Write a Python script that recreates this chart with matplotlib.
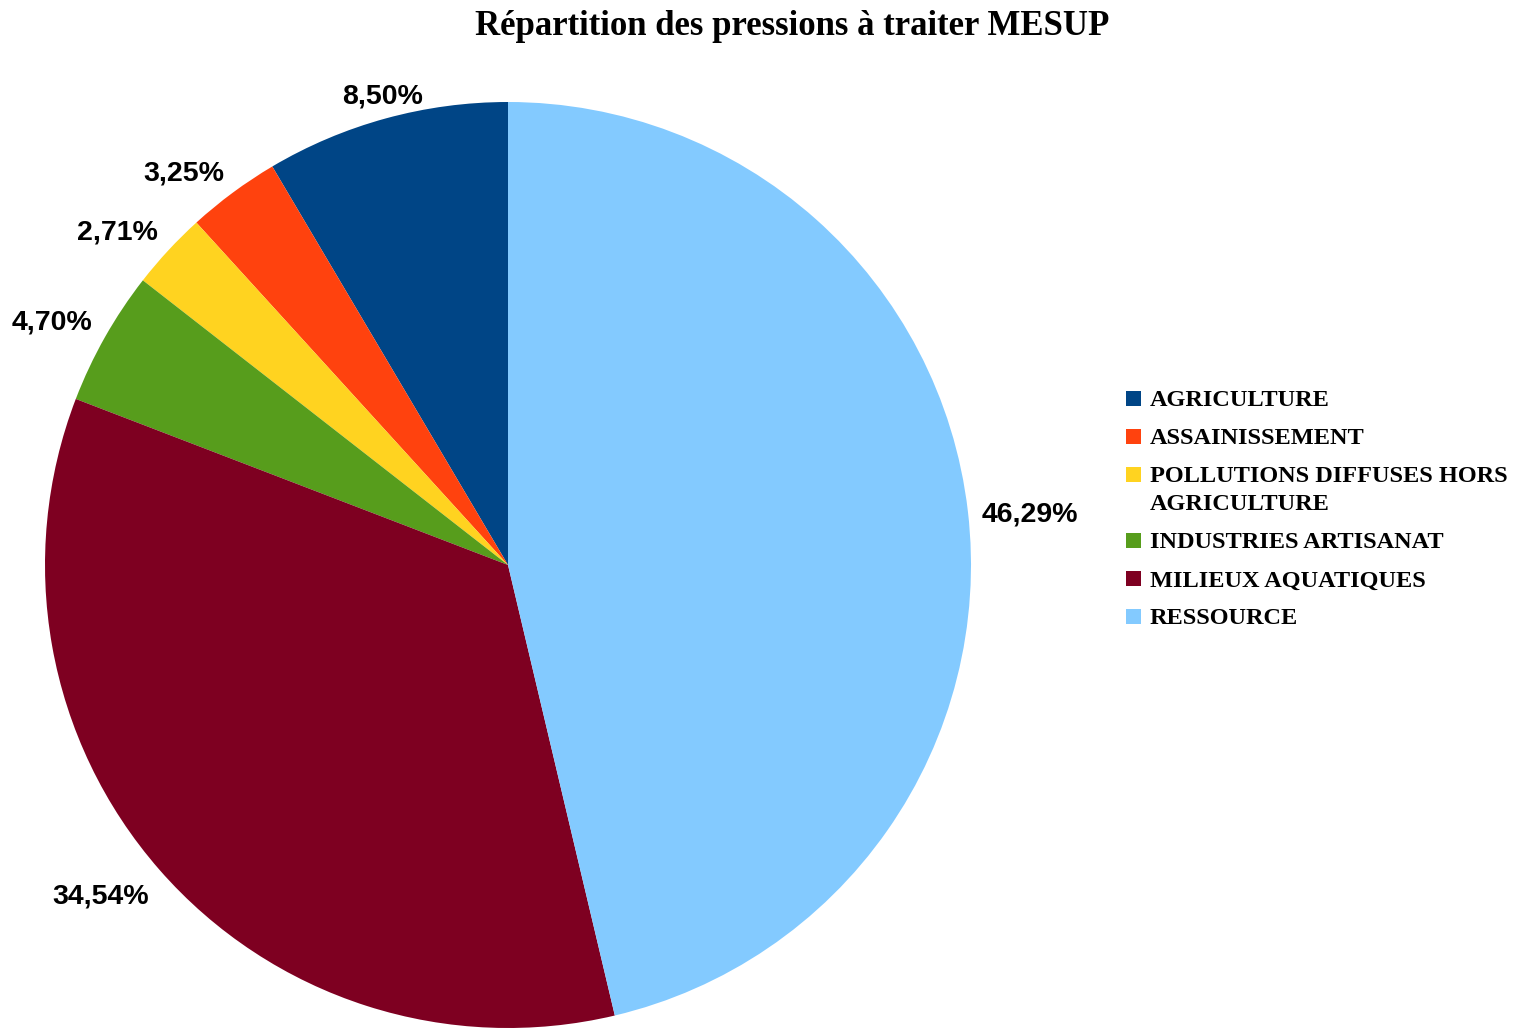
import numpy as np
import matplotlib.pyplot as plt
from matplotlib.patches import Rectangle

# Data
categories = ["AGRICULTURE", "ASSAINISSEMENT", "POLLUTIONS DIFFUSES HORS\nAGRICULTURE",
              "INDUSTRIES ARTISANAT", "MILIEUX AQUATIQUES", "RESSOURCE"]
shares = [8.50, 3.25, 2.71, 4.70, 34.54, 46.29]
colors = ["#004586", "#ff420e", "#ffd320", "#579d1c", "#7e0021", "#83caff"]

W, H = 1515, 1028
fig = plt.figure(figsize=(W / 100, H / 100), dpi=100)
ax = fig.add_axes([0, 0, 1, 1])

cx, cy, R = 508, H - 565, 463  # pie centre / radius in pixel units
wedges, _ = ax.pie(shares, colors=colors, startangle=90, counterclock=True,
                   center=(cx, cy), radius=R, wedgeprops=dict(linewidth=0))
ax.set_xlim(0, W)
ax.set_ylim(0, H)
ax.set_aspect("equal")
ax.axis("off")

# percentage labels outside the slices
for w, v in zip(wedges, shares):
    ang = np.deg2rad((w.theta1 + w.theta2) / 2)
    c, s = np.cos(ang), np.sin(ang)
    ha = "center" if abs(c) < 0.3 else ("left" if c > 0 else "right")
    va = "center" if abs(s) < 0.3 else ("bottom" if s > 0 else "top")
    ax.text(cx + (R + 14) * c, cy + (R + 14) * s - 5, f"{v:.2f}%".replace(".", ","),
            ha=ha, va=va, fontsize=20.5, fontweight="bold", family="Liberation Sans")

ax.text(792, H - 35, "Répartition des pressions à traiter MESUP",
        ha="center", va="baseline", fontsize=25, fontweight="bold", family="Liberation Serif")

# legend (drawn by hand so the square sits on the first line of wrapped labels)
y = 398
for w, lab in zip(wedges, categories):
    ax.add_patch(Rectangle((1126, H - y - 7.5), 15, 15, facecolor=w.get_facecolor(),
                           edgecolor="none"))
    for i, line in enumerate(lab.split("\n")):
        ax.text(1150, H - (y + 28 * i) - 8.5, line, ha="left", va="baseline",
                fontsize=17.5, fontweight="bold", family="Liberation Serif")
    y += 38 + 28 * lab.count("\n")

fig.savefig("out.png", dpi=100)
